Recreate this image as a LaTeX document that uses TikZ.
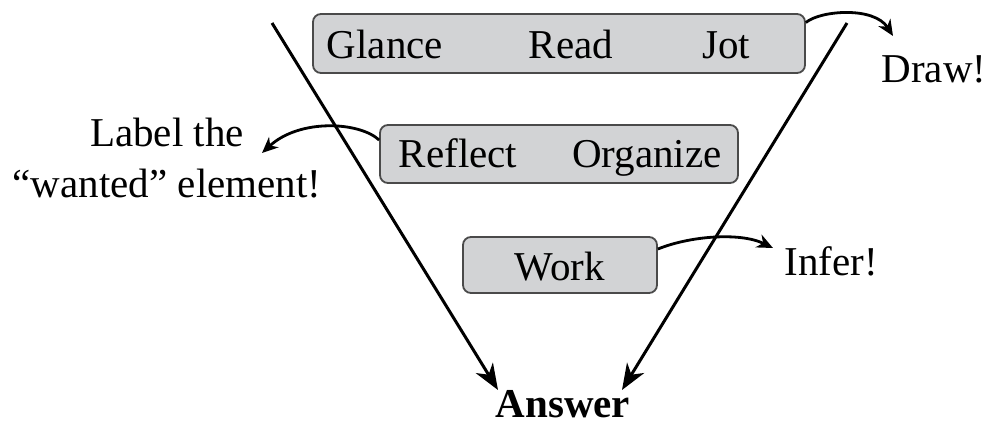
\documentclass[tikz,border=0pt]{standalone}
\usepackage{fontspec}
\setmainfont{Liberation Serif}
\usepackage{xcolor}
\usetikzlibrary{arrows.meta}
\definecolor{boxgray}{HTML}{D2D3D5}
\definecolor{boxline}{HTML}{4A4A4A}
\tikzset{
  stepbox/.style={draw=boxline,line width=0.9pt,fill=boxgray,rounded corners=4pt,inner sep=0pt},
  word/.style={anchor=base,inner sep=0pt,font=\fontsize{20.5}{25.5}\selectfont},
  flow/.style={line width=1.5pt,-{Stealth[length=13pt,width=10pt,inset=4pt]}},
  hint/.style={line width=1.4pt,-{Stealth[length=8pt,width=7pt,inset=2.5pt]}}
}

\begin{document}
\begin{tikzpicture}[x=0.5pt,y=-0.5pt]
      \useasboundingbox (0,0) rectangle (987,425);
      \node (top) at (559,43.5) [stepbox,minimum width=246pt,minimum height=29.5pt] {};
      \node (mid) at (559,154) [stepbox,minimum width=179pt,minimum height=29pt] {};
      \node (low) at (560,265) [stepbox,minimum width=97pt,minimum height=28pt] {};
      \node (glance) at (385,58) [word] {Glance};
      \node (read) at (571,58) [word] {Read};
      \node (jot) at (726,58) [word] {Jot};
      \node (reflect) at (458,167) [word] {Reflect};
      \node (organize) at (647,167) [word] {Organize};
      \node (work) at (560,280) [word] {Work};
      \node (answer) at (563,417) [word,font=\fontsize{20.5}{25.5}\selectfont\bfseries] {Answer};
      \node (draw) at (934,82) [word] {Draw!};
      \node (infer) at (831,275) [word] {Infer!};
      \node (label) at (167,158.5) [word,anchor=center,align=center] {Label the\\``wanted'' element!};
      \coordinate (ltop) at (272,23);
      \coordinate (ltip) at (498,390);
      \coordinate (rtop) at (847,23);
      \coordinate (rtip) at (622,390);
      \draw[flow] (ltop) -- (ltip);
      \draw[flow] (rtop) -- (rtip);
      \coordinate (drawtip) at (893,36);
      \coordinate (labeltip) at (262,153);
      \coordinate (infertip) at (773,248);
      \draw[hint] ([yshift=10.5pt]top.east) .. controls +(14,-12) and (874,6) .. (drawtip);
      \draw[hint] ([yshift=7pt]mid.west) .. controls (360,122) and (300,118) .. (labeltip);
      \draw[hint] ([yshift=8pt]low.east) .. controls (690,236) and (740,232) .. (infertip);
    \end{tikzpicture}
\end{document}
